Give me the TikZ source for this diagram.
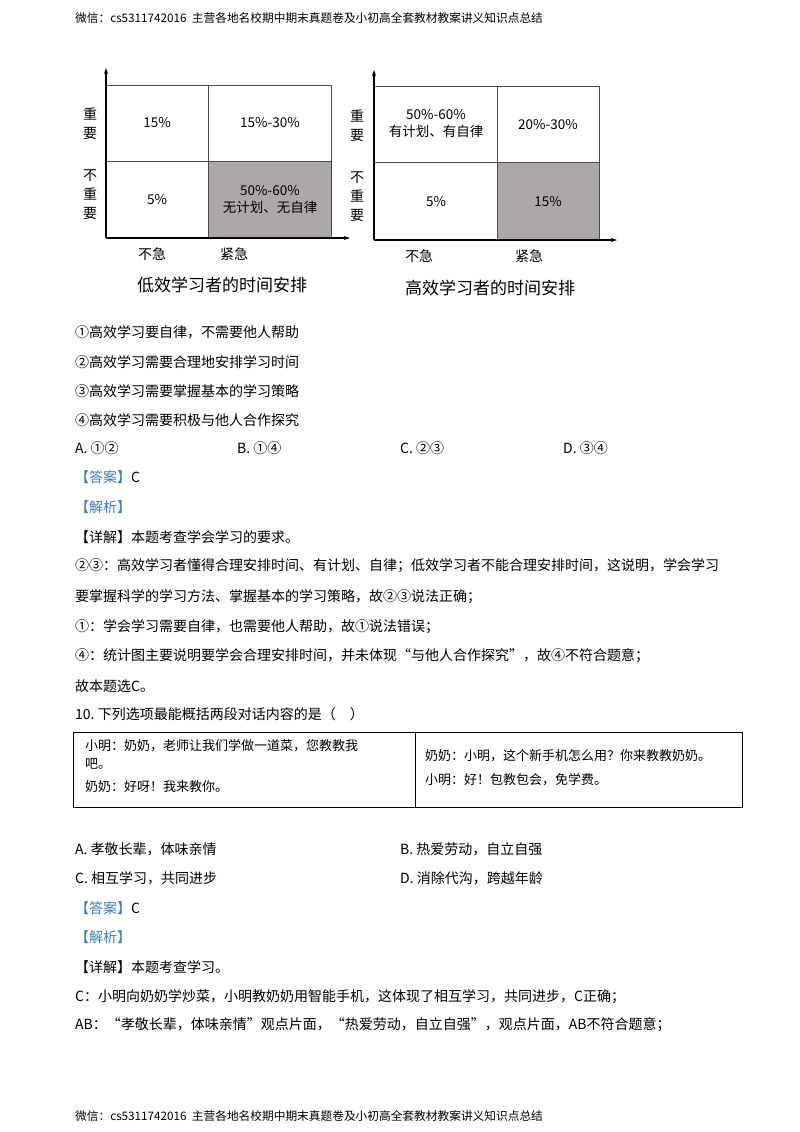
\documentclass[tikz,border=0pt]{standalone}
\usepackage{fontspec}
\setmainfont{Noto Sans CJK SC}
\usetikzlibrary{arrows.meta}
\definecolor{ansblue}{HTML}{3A7CC0}
\definecolor{cellgray}{HTML}{ABA8A7}
\tikzset{
 tx/.style={anchor=west,inner sep=0pt,font=\fontsize{14}{16}\selectfont},
 hd/.style={anchor=west,inner sep=0pt,font=\fontsize{11.7}{13}\selectfont},
 cl/.style={inner sep=0pt,align=center,font=\fontsize{13.5}{17}\selectfont},
 ax/.style={line width=1.6pt,-{Stealth[length=6pt,width=4pt]}},
 grid/.style={draw=black!70,line width=0.6pt},
 tt/.style={inner sep=0pt,font=\fontsize{17}{19}\selectfont},
 dl/.style={anchor=west,inner sep=0pt,font=\fontsize{13}{15}\selectfont},
}
\newcommand{\bl}[1]{\textcolor{ansblue}{#1}}
\begin{document}
\begin{tikzpicture}[x=1pt,y=-1pt]
\useasboundingbox[fill=white] (0,0) rectangle (800,1132);
\node[hd] (h1) at (75,18) {微信：cs5311742016\ \ 主营各地名校期中期末真题卷及小初高全套教材教案讲义知识点总结};
\node[hd] (h2) at (75,1116) {微信：cs5311742016\ \ 主营各地名校期中期末真题卷及小初高全套教材教案讲义知识点总结};
% chart 1
\fill[cellgray] (208,161) rectangle (331,238);
\draw[grid] (106,85) rectangle (331,238) (208,85) -- (208,238) (106,161) -- (331,161);
\coordinate (o1) at (106,238); \coordinate (yt1) at (106,68); \coordinate (xt1) at (350,238);
\draw[ax] (o1) -- (yt1); \draw[ax] (o1) -- (xt1);
\node[cl] (c11) at (157,123) {15\%};
\node[cl] (c12) at (270,123) {15\%-30\%};
\node[cl] (c13) at (157,200) {5\%};
\node[cl] (c14) at (270,200) {50\%-60\%\\无计划、无自律};
\node[cl,font=\fontsize{14}{19}\selectfont] (l11) at (90,124) {重\\要};
\node[cl,font=\fontsize{14}{19}\selectfont] (l12) at (90,195) {不\\重\\要};
\node[cl,font=\fontsize{14}{17}\selectfont] (l13) at (152,254) {不急};
\node[cl,font=\fontsize{14}{17}\selectfont] (l14) at (234,254) {紧急};
\node[tt] (t1) at (222,285) {低效学习者的时间安排};
% chart 2
\fill[cellgray] (497,162) rectangle (599,240);
\draw[grid] (374,86) rectangle (599,240) (497,86) -- (497,240) (374,162) -- (599,162);
\coordinate (o2) at (374,240); \coordinate (yt2) at (374,70); \coordinate (xt2) at (617,240);
\draw[ax] (o2) -- (yt2); \draw[ax] (o2) -- (xt2);
\node[cl] (c21) at (436,124) {50\%-60\%\\有计划、有自律};
\node[cl] (c22) at (548,125) {20\%-30\%};
\node[cl] (c23) at (436,202) {5\%};
\node[cl] (c24) at (548,202) {15\%};
\node[cl,font=\fontsize{14}{19}\selectfont] (l21) at (357,126) {重\\要};
\node[cl,font=\fontsize{14}{19}\selectfont] (l22) at (357,197) {不\\重\\要};
\node[cl,font=\fontsize{14}{17}\selectfont] (l23) at (419,256) {不急};
\node[cl,font=\fontsize{14}{17}\selectfont] (l24) at (529,256) {紧急};
\node[tt] (t2) at (490,288) {高效学习者的时间安排};
% text
\node[tx] (s1) at (75,332) {①高效学习要自律，不需要他人帮助};
\node[tx] (s2) at (75,362) {②高效学习需要合理地安排学习时间};
\node[tx] (s3) at (75,391) {③高效学习需要掌握基本的学习策略};
\node[tx] (s4) at (75,420) {④高效学习需要积极与他人合作探究};
\node[tx] (oa) at (75,448) {A.\ ①②};
\node[tx] (ob) at (237,448) {B.\ ①④};
\node[tx] (oc) at (400,448) {C.\ ②③};
\node[tx] (od) at (563,448) {D.\ ③④};
\node[tx] (a1) at (75,477) {\bl{【答案】}C};
\node[tx] (a2) at (75,507) {\bl{【解析】}};
\node[tx] (a3) at (75,537) {【详解】本题考查学会学习的要求。};
\node[tx] (a4) at (75,566) {②③：高效学习者懂得合理安排时间、有计划、自律；低效学习者不能合理安排时间，这说明，学会学习};
\node[tx] (a5) at (75,597) {要掌握科学的学习方法、掌握基本的学习策略，故②③说法正确；};
\node[tx] (a6) at (75,627) {①：学会学习需要自律，也需要他人帮助，故①说法错误；};
\node[tx] (a7) at (75,656) {④：统计图主要说明要学会合理安排时间，并未体现“与他人合作探究”，故④不符合题意；};
\node[tx] (a8) at (75,686) {故本题选C。};
\node[tx] (q10) at (75,714) {10.\ 下列选项最能概括两段对话内容的是（\quad ）};
% table
\draw[line width=1pt] (73,732) rectangle (742,807);
\draw[line width=0.8pt] (415,732) -- (415,807);
\node[dl] (d1) at (85,746) {小明：奶奶，老师让我们学做一道菜，您教教我};
\node[dl] (d2) at (85,764) {吧。};
\node[dl] (d3) at (85,787) {奶奶：好呀！我来教你。};
\node[dl] (d4) at (425,756) {奶奶：小明，这个新手机怎么用？你来教教奶奶。};
\node[dl] (d5) at (425,780) {小明：好！包教包会，免学费。};
\node[tx] (pa) at (75,849) {A.\ 孝敬长辈，体味亲情};
\node[tx] (pb) at (400,849) {B.\ 热爱劳动，自立自强};
\node[tx] (pc) at (75,878) {C.\ 相互学习，共同进步};
\node[tx] (pd) at (400,878) {D.\ 消除代沟，跨越年龄};
\node[tx] (b1) at (75,908) {\bl{【答案】}C};
\node[tx] (b2) at (75,937) {\bl{【解析】}};
\node[tx] (b3) at (75,967) {【详解】本题考查学习。};
\node[tx] (b4) at (75,997) {C：小明向奶奶学炒菜，小明教奶奶用智能手机，这体现了相互学习，共同进步，C正确；};
\node[tx] (b5) at (75,1025) {AB：“孝敬长辈，体味亲情”观点片面，“热爱劳动，自立自强”，观点片面，AB不符合题意；};
\end{tikzpicture}
\end{document}
